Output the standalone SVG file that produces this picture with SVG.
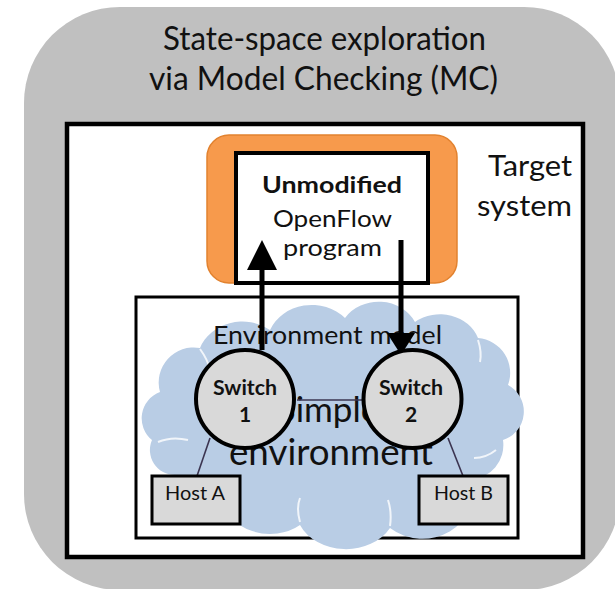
<svg xmlns="http://www.w3.org/2000/svg" width="615" height="589" viewBox="0 0 615 589">
  <defs>
    <style>
      .t { font-family: Lato, "Open Sans", "Liberation Sans", sans-serif; fill: #111; }
      .b { font-weight: bold; }
      .mid { text-anchor: middle; }
      .end { text-anchor: end; }
      .sw { fill: #d9d9d9; stroke: #000; stroke-width: 4; }
      .host { fill: #d9d9d9; stroke: #000; stroke-width: 3; }
      .link { stroke: #3b3450; stroke-width: 1.6; fill: none; }
      .arrow { stroke: #000; stroke-width: 5; fill: none; }
      .head { fill: #000; }
      .puff { stroke: #fff; stroke-width: 2; fill: none; opacity: 0.8; }
    </style>
  </defs>

  <!-- model checker frame -->
  <g id="mc-frame">
    <rect x="24" y="7" width="596" height="583" rx="96" fill="#c0c0c0"/>
    <text class="t mid" x="324.5" y="50" font-size="32" textLength="323" lengthAdjust="spacingAndGlyphs">State-space exploration</text>
    <text class="t mid" x="323.5" y="90" font-size="32" textLength="349" lengthAdjust="spacingAndGlyphs">via Model Checking (MC)</text>
  </g>

  <!-- target system -->
  <g id="target-system">
    <rect x="67" y="124" width="516" height="433" fill="#fff" stroke="#000" stroke-width="4.5"/>
    <text class="t end" x="572" y="176" font-size="29" textLength="84" lengthAdjust="spacingAndGlyphs">Target</text>
    <text class="t end" x="572" y="216" font-size="29" textLength="95" lengthAdjust="spacingAndGlyphs">system</text>
  </g>

  <!-- controller program -->
  <g id="openflow-program">
    <rect x="207" y="135" width="250" height="148" rx="22" fill="#f79a4c" stroke="#e2822f" stroke-width="1.5"/>
    <rect x="236" y="153" width="192" height="130" fill="#fff" stroke="#000" stroke-width="4"/>
    <text class="t b mid" x="332" y="193" font-size="23" textLength="140" lengthAdjust="spacingAndGlyphs">Unmodified</text>
    <text class="t mid" x="332.5" y="227" font-size="23" textLength="119" lengthAdjust="spacingAndGlyphs">OpenFlow</text>
    <text class="t mid" x="332.5" y="256" font-size="23" textLength="99" lengthAdjust="spacingAndGlyphs">program</text>
  </g>

  <!-- environment model -->
  <g id="environment-model">
    <rect x="136" y="297" width="382" height="241" fill="#fff" stroke="#000" stroke-width="3"/>
    <path d="M 152,440 A 28,28 0 0 1 160,392 A 35,35 0 0 1 200,348 A 45,40 0 0 1 270,330 A 45,40 0 0 1 345,318 A 40,35 0 0 1 415,322 A 40,35 0 0 1 478,338 A 35,35 0 0 1 508,385 A 30,30 0 0 1 503,440 A 35,35 0 0 1 470,480 A 50,45 0 0 1 390,528 A 50,40 0 0 1 300,525 A 45,35 0 0 1 225,500 A 35,30 0 0 1 175,475 A 25,25 0 0 1 152,440 Z" fill="#b9cde5"/>
    <path class="puff" d="M 158,442 Q 172,436 188,440"/>
    <path class="puff" d="M 200,349 Q 208,360 210,370"/>
    <path class="puff" d="M 478,340 Q 482,352 480,362"/>
    <path class="puff" d="M 496,450 Q 486,458 474,458"/>
    <path class="puff" d="M 300,522 Q 296,508 300,498"/>
    <path class="puff" d="M 390,526 Q 392,512 388,500"/>
    <text class="t mid" x="327.5" y="344" font-size="25" textLength="229" lengthAdjust="spacingAndGlyphs">Environment model</text>
    <!-- two-line cloud caption, mostly covered by the switches -->
    <text class="t mid" x="328" y="422" font-size="35" fill="#1a1a1a">Simple</text>
    <text class="t mid" x="331" y="465" font-size="36" textLength="204" lengthAdjust="spacingAndGlyphs" fill="#1a1a1a">environment</text>
  </g>

  <!-- connectors -->
  <g id="connectors">
    <line class="link" x1="297" y1="400" x2="362" y2="400"/>
    <line class="link" x1="210" y1="438" x2="197" y2="476"/>
    <line class="link" x1="448" y1="438" x2="463" y2="476"/>
    <line class="arrow" x1="262" y1="350" x2="262" y2="268"/>
    <polygon class="head" points="262,240 277,270 247,270"/>
    <line class="arrow" x1="401" y1="240" x2="401" y2="336"/>
    <polygon class="head" points="387,333 415,333 401,355"/>
  </g>

  <g id="switch-1">
    <circle class="sw" cx="245" cy="399" r="49"/>
    <text class="t b mid" x="245" y="395" font-size="21" textLength="64" lengthAdjust="spacingAndGlyphs">Switch</text>
    <text class="t b mid" x="245" y="422" font-size="21">1</text>
  </g>

  <g id="switch-2">
    <circle class="sw" cx="412.5" cy="399" r="49"/>
    <text class="t b mid" x="411" y="395" font-size="21" textLength="64" lengthAdjust="spacingAndGlyphs">Switch</text>
    <text class="t b mid" x="411" y="422" font-size="21">2</text>
  </g>

  <g id="host-a">
    <rect class="host" x="152" y="476" width="88" height="48"/>
    <text class="t mid" x="195" y="500" font-size="20" textLength="60" lengthAdjust="spacingAndGlyphs">Host A</text>
  </g>

  <g id="host-b">
    <rect class="host" x="419" y="476" width="89" height="48"/>
    <text class="t mid" x="463.5" y="500" font-size="20" textLength="59" lengthAdjust="spacingAndGlyphs">Host B</text>
  </g>
</svg>
